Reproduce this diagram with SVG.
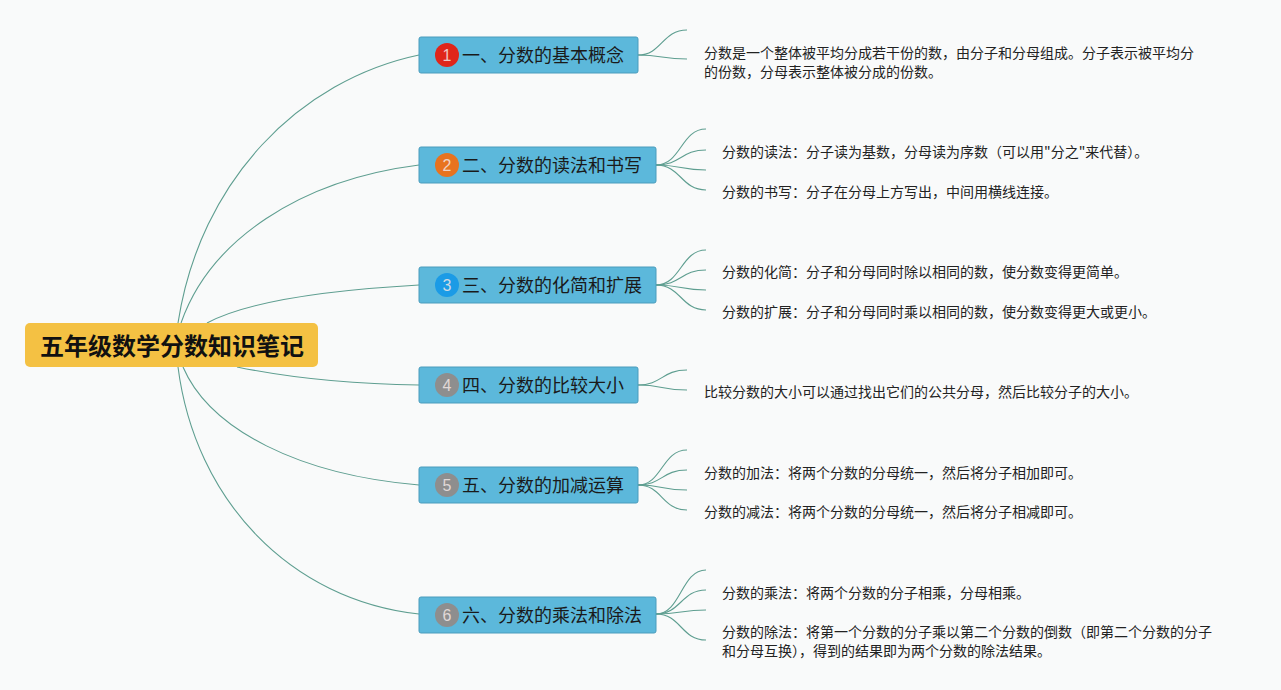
<svg xmlns="http://www.w3.org/2000/svg" width="1281" height="690" viewBox="0 0 1281 690">
<style>
.bg{fill:#f9fafa}
.root{fill:#f4c143}
.rootT{font-family:"Noto Sans CJK SC","Noto Sans",sans-serif;font-size:24px;font-weight:bold;fill:#111}
.topic{fill:#5cb8db;stroke:#4a9cbc;stroke-width:1}
.tT{font-family:"Noto Sans CJK SC","Noto Sans",sans-serif;font-size:18px;fill:#1a1a1a}
.num{font-family:"Liberation Sans","Noto Sans",sans-serif;font-size:16px;fill:#f2e6e4;fill-opacity:0.85;text-anchor:middle}
.leaf{font-family:"Noto Sans CJK SC","Noto Sans",sans-serif;font-size:14px;fill:#222}
.c{fill:none;stroke:#5e9e90;stroke-width:1.1}
</style>
<rect class="bg" x="0" y="0" width="1281" height="690"/>
<g id="connectors">
<path class="c" d="M178,323 C200,180 300,80 419,55"/>
<path class="c" d="M181,323 C210,240 300,180 419,165"/>
<path class="c" d="M207,323 C250,300 330,290 419,285"/>
<path class="c" d="M237,367 C290,378 350,384 419,385"/>
<path class="c" d="M183,367 C210,430 300,475 419,485"/>
<path class="c" d="M178,367 C195,500 290,600 419,614"/>
<path class="c" d="M638,55 C662,55 662,30 687,30"/>
<path class="c" d="M638,55 C662,55 662,59 687,59"/>
<path class="c" d="M656,165 C681,165 681,129 706,129"/>
<path class="c" d="M656,165 C681,165 681,150 706,150"/>
<path class="c" d="M656,165 C681,165 681,170 706,170"/>
<path class="c" d="M656,165 C681,165 681,190 706,190"/>
<path class="c" d="M656,285 C681,285 681,250 706,250"/>
<path class="c" d="M656,285 C681,285 681,270 706,270"/>
<path class="c" d="M656,285 C681,285 681,290 706,290"/>
<path class="c" d="M656,285 C681,285 681,310 706,310"/>
<path class="c" d="M638,385 C662,385 662,370 687,370"/>
<path class="c" d="M638,385 C662,385 662,390 687,390"/>
<path class="c" d="M638,485 C662,485 662,450 687,450"/>
<path class="c" d="M638,485 C662,485 662,470 687,470"/>
<path class="c" d="M638,485 C662,485 662,490 687,490"/>
<path class="c" d="M638,485 C662,485 662,510 687,510"/>
<path class="c" d="M656,614 C681,614 681,570 706,570"/>
<path class="c" d="M656,614 C681,614 681,590 706,590"/>
<path class="c" d="M656,614 C681,614 681,610 706,610"/>
<path class="c" d="M656,614 C681,614 681,640 706,640"/>
</g>
<g id="root">
<rect class="root" x="25" y="323" width="293" height="44" rx="5"/>
<text class="rootT" x="172" y="355" text-anchor="middle">五年级数学分数知识笔记</text>
</g>
<g id="topic1">
<rect class="topic" x="419" y="37" width="219" height="36" rx="2"/>
<circle cx="447" cy="55" r="12" fill="#e0251a"/>
<text class="num" x="447" y="61">1</text>
<text class="tT" x="462" y="62">一、分数的基本概念</text>
</g>
<g id="topic2">
<rect class="topic" x="419" y="147" width="237" height="36" rx="2"/>
<circle cx="447" cy="165" r="12" fill="#e8731f"/>
<text class="num" x="447" y="171">2</text>
<text class="tT" x="462" y="172">二、分数的读法和书写</text>
</g>
<g id="topic3">
<rect class="topic" x="419" y="267" width="237" height="36" rx="2"/>
<circle cx="447" cy="285" r="12" fill="#1b9be6"/>
<text class="num" x="447" y="291">3</text>
<text class="tT" x="462" y="292">三、分数的化简和扩展</text>
</g>
<g id="topic4">
<rect class="topic" x="419" y="367" width="219" height="36" rx="2"/>
<circle cx="447" cy="385" r="12" fill="#8e8e8e"/>
<text class="num" x="447" y="391">4</text>
<text class="tT" x="462" y="392">四、分数的比较大小</text>
</g>
<g id="topic5">
<rect class="topic" x="419" y="467" width="219" height="36" rx="2"/>
<circle cx="447" cy="485" r="12" fill="#8e8e8e"/>
<text class="num" x="447" y="491">5</text>
<text class="tT" x="462" y="492">五、分数的加减运算</text>
</g>
<g id="topic6">
<rect class="topic" x="419" y="597" width="237" height="36" rx="2"/>
<circle cx="447" cy="615" r="12" fill="#8e8e8e"/>
<text class="num" x="447" y="621">6</text>
<text class="tT" x="462" y="622">六、分数的乘法和除法</text>
</g>
<g id="leaf1">
<text class="leaf" x="704" y="58">分数是一个整体被平均分成若干份的数，由分子和分母组成。分子表示被平均分</text>
<text class="leaf" x="704" y="77">的份数，分母表示整体被分成的份数。</text>
</g>
<g id="leaf2">
<text class="leaf" x="722" y="157">分数的读法：分子读为基数，分母读为序数（可以用"分之"来代替）。</text>
<text class="leaf" x="722" y="197">分数的书写：分子在分母上方写出，中间用横线连接。</text>
</g>
<g id="leaf3">
<text class="leaf" x="722" y="277">分数的化简：分子和分母同时除以相同的数，使分数变得更简单。</text>
<text class="leaf" x="722" y="317">分数的扩展：分子和分母同时乘以相同的数，使分数变得更大或更小。</text>
</g>
<g id="leaf4">
<text class="leaf" x="704" y="397">比较分数的大小可以通过找出它们的公共分母，然后比较分子的大小。</text>
</g>
<g id="leaf5">
<text class="leaf" x="704" y="478">分数的加法：将两个分数的分母统一，然后将分子相加即可。</text>
<text class="leaf" x="704" y="517">分数的减法：将两个分数的分母统一，然后将分子相减即可。</text>
</g>
<g id="leaf6">
<text class="leaf" x="722" y="598">分数的乘法：将两个分数的分子相乘，分母相乘。</text>
<text class="leaf" x="722" y="637">分数的除法：将第一个分数的分子乘以第二个分数的倒数（即第二个分数的分子</text>
<text class="leaf" x="722" y="656">和分母互换），得到的结果即为两个分数的除法结果。</text>
</g>
</svg>
